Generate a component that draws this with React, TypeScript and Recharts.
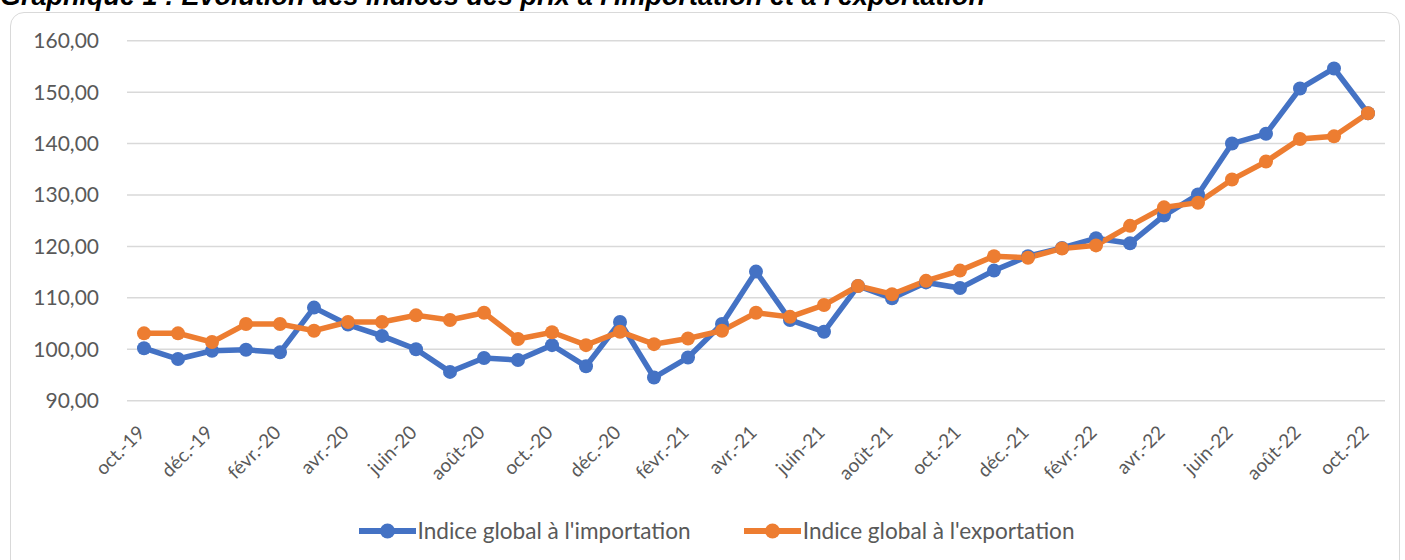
import React from 'react';
import { LineChart, Line, XAxis, YAxis, CartesianGrid } from 'recharts';

const months = [
  'oct.-19', 'nov.-19', 'déc.-19', 'janv.-20', 'févr.-20', 'mars-20', 'avr.-20', 'mai-20', 'juin-20', 'juil.-20',
  'août-20', 'sept.-20', 'oct.-20', 'nov.-20', 'déc.-20', 'janv.-21', 'févr.-21', 'mars-21', 'avr.-21', 'mai-21',
  'juin-21', 'juil.-21', 'août-21', 'sept.-21', 'oct.-21', 'nov.-21', 'déc.-21', 'janv.-22', 'févr.-22', 'mars-22',
  'avr.-22', 'mai-22', 'juin-22', 'juil.-22', 'août-22', 'sept.-22', 'oct.-22',
];

const importIndex = [
  100.2, 98.1, 99.7, 99.9, 99.4, 108.1, 104.8, 102.6, 100.0, 95.6,
  98.3, 97.9, 100.8, 96.7, 105.3, 94.5, 98.4, 104.9, 115.1, 105.7,
  103.4, 112.3, 109.9, 113.0, 111.9, 115.3, 118.1, 119.7, 121.6, 120.6,
  126.0, 130.1, 140.0, 141.9, 150.7, 154.6, 145.9,
];

const exportIndex = [
  103.1, 103.1, 101.4, 104.9, 104.9, 103.6, 105.3, 105.3, 106.6, 105.7,
  107.1, 102.0, 103.3, 100.8, 103.4, 101.0, 102.1, 103.6, 107.1, 106.3,
  108.6, 112.3, 110.7, 113.3, 115.3, 118.1, 117.8, 119.6, 120.2, 124.0,
  127.6, 128.5, 133.0, 136.5, 140.9, 141.4, 145.9,
];

const yTicks = [90, 100, 110, 120, 130, 140, 150, 160];

const seriesNames = ["Indice global à l'importation", "Indice global à l'exportation"];
const seriesColors = ['#4472C4', '#ED7D31'];

const title = "Graphique 1 : Evolution des indices des prix à l'importation et à l'exportation";

const data = months.map((m, i) => ({ month: m, imp: importIndex[i], exp: exportIndex[i] }));

const FONT = 'Lato, "Liberation Sans", Arial, sans-serif';
const TITLE_FONT = '"Liberation Sans", Arial, sans-serif';

const XTick = (props: any) => {
  const { x, y, payload } = props;
  return (
    <text
      transform={`translate(${x + 2},${y + 25}) rotate(-45)`}
      textAnchor="end"
      fill="#595959"
      fontSize={19}
      fontFamily={FONT}
    >
      {payload.value}
    </text>
  );
};

export default function App() {
  return (
    <div style={{ position: 'absolute', left: 0, top: 0, width: 1405, height: 560, overflow: 'hidden', background: '#fff' }}>
      <div
        style={{
          position: 'absolute', left: 0, top: -19.5, whiteSpace: 'nowrap', lineHeight: 'normal',
          fontFamily: TITLE_FONT, fontWeight: 'bold', fontStyle: 'italic', fontSize: 27, color: '#000',
        }}
      >
        {title}
      </div>
      <div
        style={{
          position: 'absolute', left: 10, top: 12, width: 1390, height: 600,
          border: '1.5px solid #d9d9d9', borderRadius: 14, boxSizing: 'border-box',
        }}
      />
      <div style={{ position: 'absolute', left: 0, top: 0 }}>
        <LineChart
          width={1405}
          height={560}
          data={data}
          margin={{ top: 40.7, right: 20, left: 27, bottom: 99.3 }}
        >
          <CartesianGrid horizontal vertical={false} stroke="#d9d9d9" strokeWidth={1.5} />
          <XAxis
            dataKey="month"
            interval={1}
            axisLine={false}
            tickLine={false}
            tick={<XTick />}
            height={60}
            padding={{ left: 17, right: 17 }}
          />
          <YAxis
            domain={[90, 160]}
            ticks={yTicks}
            interval={0}
            width={100}
            axisLine={false}
            tickLine={false}
            tickSize={6}
            tickMargin={22}
            tickFormatter={(v: number) => v.toFixed(2).replace('.', ',')}
            tick={{ fill: '#595959', fontSize: 21, fontFamily: FONT }}
          />
          <Line
            dataKey="imp"
            name={seriesNames[0]}
            stroke={seriesColors[0]}
            strokeWidth={5.5}
            dot={{ r: 7, fill: seriesColors[0], stroke: seriesColors[0], strokeWidth: 0 }}
            activeDot={false}
            isAnimationActive={false}
          />
          <Line
            dataKey="exp"
            name={seriesNames[1]}
            stroke={seriesColors[1]}
            strokeWidth={5.5}
            dot={{ r: 7, fill: seriesColors[1], stroke: seriesColors[1], strokeWidth: 0 }}
            activeDot={false}
            isAnimationActive={false}
          />
        </LineChart>
      </div>
      <div
        style={{
          position: 'absolute', left: 0, top: 517, width: 1405, display: 'flex', justifyContent: 'center',
          alignItems: 'center', fontFamily: FONT, fontSize: 22.6, color: '#595959', lineHeight: '28px',
          paddingLeft: 28, boxSizing: 'border-box',
        }}
      >
        {seriesNames.map((n, i) => (
          <div key={n} style={{ display: 'flex', alignItems: 'center', marginRight: i === 0 ? 53 : 0 }}>
            <svg width={57} height={18} style={{ marginRight: 2 }}>
              <line x1={1} y1={9} x2={56} y2={9} stroke={seriesColors[i]} strokeWidth={6} strokeLinecap="round" />
              <circle cx={28.5} cy={9} r={7.5} fill={seriesColors[i]} />
            </svg>
            <span>{n}</span>
          </div>
        ))}
      </div>
    </div>
  );
}
